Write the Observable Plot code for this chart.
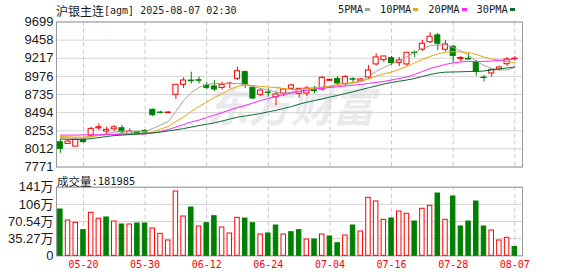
<!DOCTYPE html>
<html><head><meta charset="utf-8">
<script src="https://cdn.jsdelivr.net/npm/d3@7"></script>
<script src="https://cdn.jsdelivr.net/npm/@observablehq/plot@0.6"></script>
<style>
body{margin:0;background:#fff;}
#wrap{position:relative;width:578px;height:276px;overflow:hidden;background:#fff;}
.abs{position:absolute;white-space:nowrap;line-height:1;}
.abs svg{overflow:visible;}
</style></head><body><div id="wrap"></div>
<script>
const dates = ["05-15","05-16","05-19","05-20","05-21","05-22","05-23","05-26","05-27","05-28","05-29","05-30",
"06-03","06-04","06-05","06-06","06-09","06-10","06-11","06-12","06-13","06-16","06-17","06-18","06-19","06-20","06-23","06-24",
"06-25","06-26","06-27","06-30","07-01","07-02","07-03","07-04","07-07","07-08","07-09","07-10","07-11","07-14","07-15","07-16",
"07-17","07-18","07-21","07-22","07-23","07-24","07-25","07-28","07-29","07-30","07-31","08-01","08-04","08-05","08-06","08-07"];
const open  = [8100,8078,8042,8136,8189,8285,8242,8272,8286,8206,8238,8251,8531,8495,8488,8731,8864,8920,8925,8855,8842,8822,8875,8944,9032,8824,8731,8762,8699,8748,8811,8744,8748,8790,8802,8917,8941,8875,8938,8908,8961,9135,9195,9218,9155,9135,9290,9330,9430,9521,9330,9370,9208,9210,9165,8960,9015,9068,9138,9205];
const high  = [8136,8136,8158,8153,8299,8345,8299,8322,8322,8278,8246,8265,8544,8513,8510,8868,8955,9032,8965,8895,8921,8899,8899,9098,9048,8846,8795,8811,8762,8815,8868,8815,8842,8842,8975,8935,8975,8988,8957,8948,9121,9277,9241,9241,9226,9294,9315,9455,9556,9543,9454,9383,9241,9277,9188,8988,9068,9108,9228,9237];
const low   = [7953,8078,8042,8088,8153,8256,8211,8246,8211,8189,8189,8220,8440,8478,8485,8668,8815,8875,8877,8798,8775,8795,8811,8921,8811,8662,8708,8700,8588,8708,8802,8686,8708,8748,8782,8912,8855,8842,8877,8905,8935,9115,9157,9121,9108,9112,9224,9308,9414,9321,9299,9152,9168,9193,8979,8900,8966,9048,9108,9180];
const close = [8012,8109,8136,8102,8278,8300,8265,8299,8232,8242,8220,8229,8460,8490,8495,8864,8921,8912,8918,8824,8802,8864,8880,9045,8868,8682,8788,8757,8735,8802,8855,8811,8815,8780,8957,8930,8882,8968,8932,8935,9055,9228,9241,9153,9188,9290,9285,9410,9503,9410,9401,9246,9220,9200,9037,8955,9062,9095,9201,9212];
const ma5  = [8162,8156,8149,8156,8176,8195,8215,8235,8249,8249,8242,8242,8282,8329,8375,8509,8655,8762,8828,8868,8882,8882,8882,8882,8868,8842,8815,8795,8768,8748,8768,8802,8815,8828,8835,8842,8855,8868,8888,8908,8975,9041,9095,9141,9188,9235,9294,9348,9381,9394,9394,9361,9314,9255,9181,9121,9081,9061,9061,9095];
const ma10 = [8176,8173,8169,8169,8176,8189,8202,8209,8215,8215,8211,8215,8235,8275,8309,8375,8435,8509,8575,8635,8695,8748,8802,8842,8862,8855,8842,8835,8828,8815,8802,8802,8808,8822,8828,8848,8868,8882,8895,8908,8941,8981,9008,9035,9068,9108,9155,9201,9241,9275,9298,9304,9301,9294,9268,9232,9208,9192,9175,9157];
const ma20 = [8195,8195,8195,8198,8200,8200,8202,8202,8206,8209,8211,8211,8222,8242,8269,8302,8335,8369,8395,8429,8462,8495,8529,8562,8588,8622,8655,8682,8708,8735,8755,8775,8791,8806,8818,8828,8838,8848,8858,8868,8882,8895,8908,8928,8948,8968,9001,9041,9081,9108,9135,9155,9168,9175,9175,9175,9181,9188,9197,9208];
const ma30 = [8142,8140,8136,8136,8149,8162,8176,8189,8195,8202,8209,8215,8225,8235,8251,8265,8282,8302,8322,8339,8358,8382,8409,8433,8449,8465,8482,8505,8525,8549,8575,8606,8632,8655,8675,8702,8722,8748,8771,8798,8824,8848,8875,8895,8912,8928,8948,8975,9001,9021,9032,9035,9037,9041,9041,9048,9061,9075,9088,9101];
// volume in 万
const volume = [95.2,72.6,67.9,52.7,88.4,76.1,78.8,70.5,64.4,64.4,66.4,66.4,56.1,45.2,31.5,132.2,80.8,99.3,60.3,67.0,
81.4,58.2,45.9,78.1,76.7,67.0,43.8,45.9,62.3,43.8,48.5,52.7,33.5,33.5,43.8,39.7,25.9,41.7,62.3,50.0,
119.3,111.7,74.0,76.7,91.1,86.4,70.5,96.7,102.8,128.1,74.0,121.9,60.3,70.5,111.7,60.3,52.0,31.5,37.0,18.2];
const volDir = ["d","u","u","d","u","u","d","u","d","u","d","d","u","u","u","u","u","d","u","d",
"d","u","u","u","d","d","u","d","d","u","d","d","u","d","u","d","d","u","d","u",
"u","u","u","d","u","u","d","u","u","d","u","d","d","d","d","d","u","u","u","d"];
const priceTicks = [7771,8012,8253,8494,8735,8976,9217,9458,9699];
const volTicks = [0,35.27,70.54,105.81,141.08];
const volTickLabels = ["0","35.27万","70.54万","106万","141万"];
const dateTicks = ["05-20","05-30","06-12","06-24","07-04","07-16","07-28","08-07"];
const maNames = ["5PMA","10PMA","20PMA","30PMA"];
const maColors = ["#a3a3a3","#f0a30a","#ff22ff","#0b6e30"];
const titleCn = "沪银主连";
const titleRest = "[agm] 2025-08-07 02:30";
const volTitleCn = "成交量";
const volTitleRest = ":181985";
const watermark = "东方财富";

const RED = "#ff0000", GREEN = "#008000";
const tickIdx = dateTicks.map(d => dates.indexOf(d));
const candles = dates.map((d, i) => ({i, o: open[i], h: high[i], l: low[i], c: close[i], up: close[i] >= open[i]}));
const maSeries = [ma5, ma10, ma20, ma30];
const vols = volume.map((v, i) => ({i, v, up: volDir[i] === "u"}));
const axisFont = "'Liberation Sans','Noto Sans CJK SC',sans-serif";

const wrap = d3.select("#wrap");

const mainChart = Plot.plot({
  width: 578, height: 172,
  marginLeft: 56, marginRight: 56, marginTop: 21.5, marginBottom: 5.5,
  style: {fontFamily: axisFont, fontSize: "13px", overflow: "visible", background: "transparent"},
  x: {domain: [-0.5, 60], axis: null},
  y: {domain: [7771, 9699], axis: null},
  marks: [
    Plot.text([watermark], {text: d => d, frameAnchor: "top-left", textAnchor: "middle", dx: 234, dy: 70, fontSize: 42, fontWeight: "bold", fontStyle: "italic", fill: "#e9e9ee", fontFamily: "'Noto Sans CJK SC'"}),
    Plot.ruleY(priceTicks, {stroke: "#d4d4d4"}),
    Plot.ruleX(tickIdx, {stroke: "#c8c8c8", strokeDasharray: "4,3"}),
    Plot.frame({stroke: "#9a9a9a"}),
    Plot.axisY({ticks: priceTicks, tickFormat: d => String(d), tickSize: 0, tickPadding: 3, color: "#1a1a1a", fontSize: 13, label: null}),
    Plot.ruleX(candles, {x: "i", y1: "l", y2: "h", stroke: d => d.up ? RED : GREEN, strokeWidth: 1}),
    Plot.rect(candles, {x1: d => d.i - 0.33, x2: d => d.i + 0.33, y1: "o", y2: "c", fill: d => d.up ? "#ffffff" : GREEN, stroke: d => d.up ? RED : GREEN, strokeWidth: 1}),
    ...maSeries.map((s, k) => Plot.line(s.map((v, i) => ({i, v})), {x: "i", y: "v", stroke: maColors[k], strokeWidth: 1}))
  ]
});

const volChart = Plot.plot({
  width: 578, height: 104,
  marginLeft: 56, marginRight: 56, marginTop: 14.7, marginBottom: 20.7,
  style: {fontFamily: axisFont, fontSize: "13px", overflow: "visible", background: "transparent"},
  x: {domain: [-0.5, 60], axis: null},
  y: {domain: [0, 141.08], axis: null},
  marks: [
    Plot.ruleY(volTicks, {stroke: "#d4d4d4"}),
    Plot.ruleX(tickIdx, {stroke: "#c8c8c8", strokeDasharray: "4,3"}),
    Plot.frame({stroke: "#9a9a9a"}),
    Plot.axisY({ticks: volTicks, tickFormat: d => volTickLabels[volTicks.indexOf(d)], tickSize: 0, tickPadding: 3, color: "#1a1a1a", fontSize: 13, label: null}),
    Plot.axisX({ticks: tickIdx, tickFormat: i => dates[i], tickSize: 0, tickPadding: 5, color: RED, fontSize: 10, fontFamily: "'DejaVu Sans Mono',monospace", label: null}),
    Plot.rect(vols, {x1: d => d.i - 0.29, x2: d => d.i + 0.29, y1: 0, y2: "v", fill: d => d.up ? "#ffffff" : GREEN, stroke: d => d.up ? RED : GREEN, strokeWidth: 1})
  ]
});

wrap.append("div").attr("class", "abs").style("left", "0px").style("top", "0px").node().appendChild(mainChart);
wrap.append("div").attr("class", "abs").style("left", "0px").style("top", "172px").node().appendChild(volChart);

// title
const t = wrap.append("div").attr("class", "abs").style("left", "56px").style("top", "1px").style("color", "#1a1a1a");
t.append("span").style("font", "12px 'Noto Sans CJK SC'").style("vertical-align", "middle").text(titleCn);
t.append("span").style("font", "10px 'DejaVu Sans Mono'").style("vertical-align", "middle").text(titleRest);

// legend
const lg = wrap.append("div").attr("class", "abs").style("left", "338px").style("top", "3px").style("display", "flex").style("align-items", "center");
maNames.forEach((n, k) => {
  lg.append("span").style("font", "10.4px 'DejaVu Sans Mono'").style("color", "#1a1a1a").text(n);
  lg.append("span").style("display", "inline-block").style("width", "5px").style("height", "3px").style("margin-left", "2px").style("margin-right", k < 3 ? "10px" : "0px").style("background", maColors[k]);
});

// volume title
const vt = wrap.append("div").attr("class", "abs").style("left", "57px").style("top", "172px").style("color", "#1a1a1a");
vt.append("span").style("font", "11.5px 'Noto Sans CJK SC'").style("vertical-align", "middle").text(volTitleCn);
vt.append("span").style("font", "10.4px 'DejaVu Sans Mono'").style("vertical-align", "middle").text(volTitleRest);
</script>
</body></html>
